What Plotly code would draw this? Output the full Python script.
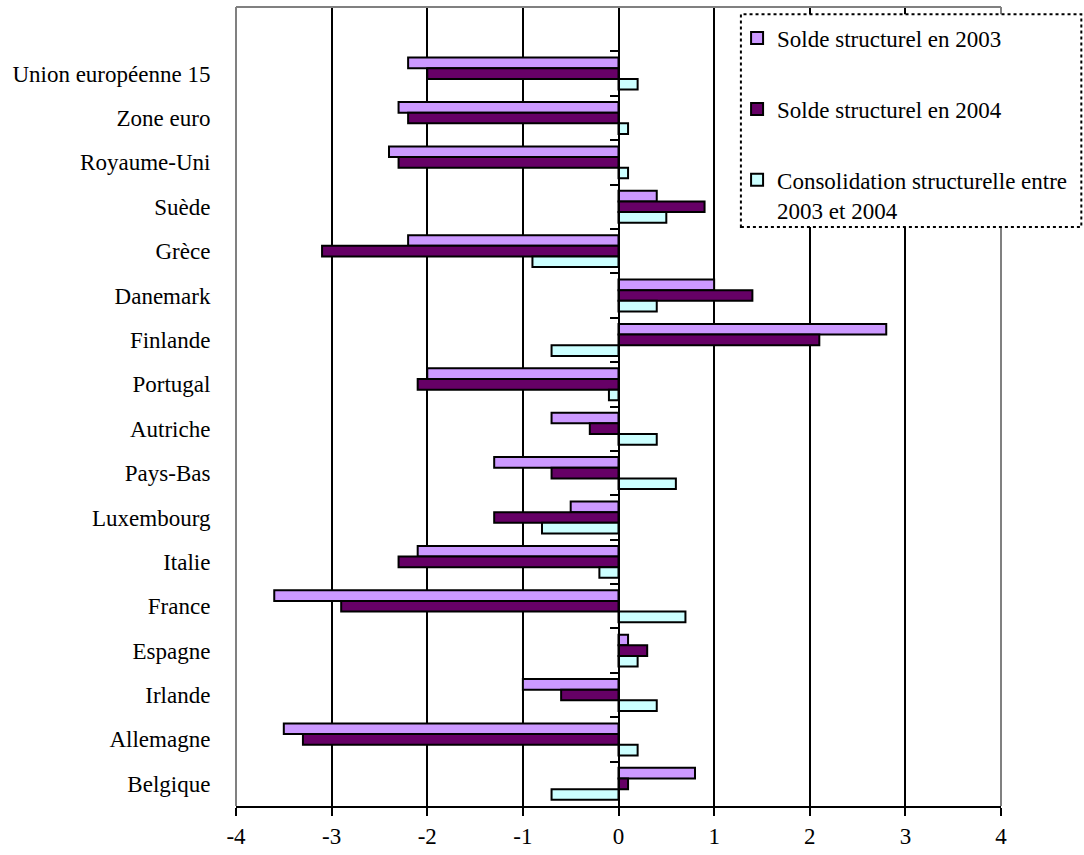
import plotly.graph_objects as go

categories = ["Union européenne 15", "Zone euro", "Royaume-Uni", "Suède", "Grèce",
              "Danemark", "Finlande", "Portugal", "Autriche", "Pays-Bas", "Luxembourg",
              "Italie", "France", "Espagne", "Irlande", "Allemagne", "Belgique"]
solde_2003 = [-2.2, -2.3, -2.4, 0.4, -2.2, 1.0, 2.8, -2.0, -0.7, -1.3, -0.5,
              -2.1, -3.6, 0.1, -1.0, -3.5, 0.8]
solde_2004 = [-2.0, -2.2, -2.3, 0.9, -3.1, 1.4, 2.1, -2.1, -0.3, -0.7, -1.3,
              -2.3, -2.9, 0.3, -0.6, -3.3, 0.1]
consolidation = [0.2, 0.1, 0.1, 0.5, -0.9, 0.4, -0.7, -0.1, 0.4, 0.6, -0.8,
                 -0.2, 0.7, 0.2, 0.4, 0.2, -0.7]
series_names = ["Solde structurel en 2003", "Solde structurel en 2004",
                "Consolidation structurelle entre<br>2003 et 2004"]
series_colors = ["#CC99FF", "#660066", "#CCFFFF"]
x_ticks = [-4, -3, -2, -1, 0, 1, 2, 3, 4]

FONT = "Liberation Serif, Times New Roman, serif"
FS = 23

fig = go.Figure()
for i, (name, vals, col) in enumerate(zip(series_names, [solde_2003, solde_2004, consolidation], series_colors)):
    fig.add_trace(go.Bar(
        y=categories, x=vals, orientation="h", name=name,
        marker=dict(color=col, line=dict(color="black", width=2)),
        legendgroup=f"g{i}",
    ))

# invisible trace on the secondary category axis (axis through zero with boundary ticks)
fig.add_trace(go.Scatter(y=categories, x=[0] * len(categories), yaxis="y2",
                         mode="markers", marker=dict(opacity=0), showlegend=False,
                         hoverinfo="skip"))

n = len(categories)
y_range = [n - 0.5, -1.5]

fig.update_layout(
    width=1084, height=855,
    margin=dict(l=236, r=83, t=7, b=49),
    paper_bgcolor="white", plot_bgcolor="white",
    font=dict(family=FONT, size=FS, color="black"),
    barmode="group", bargap=0.28, bargroupgap=0,
    xaxis=dict(range=[-4, 4], tickvals=x_ticks, ticktext=[str(v) for v in x_ticks],
               showgrid=True, gridcolor="black", gridwidth=2,
               zeroline=False, showline=True, linecolor="black", linewidth=2,
               ticks="outside", ticklen=8, tickwidth=2, tickcolor="black",
               tickfont=dict(size=FS)),
    yaxis=dict(type="category", categoryarray=categories, range=y_range,
               showgrid=False, zeroline=False, showline=False,
               ticks="outside", ticklen=20, tickcolor="rgba(0,0,0,0)",
               tickfont=dict(size=FS)),
    yaxis2=dict(type="category", categoryarray=categories, matches="y",
                overlaying="y", anchor="free", position=0.5, side="left",
                showticklabels=False, showgrid=False, zeroline=False,
                showline=True, linecolor="black", linewidth=2,
                ticks="outside", tickson="boundaries", ticklen=8, tickwidth=2,
                tickcolor="black"),
    legend=dict(x=0.655, y=0.988, xanchor="left", yanchor="top",
                bgcolor="rgba(0,0,0,0)", borderwidth=0,
                font=dict(size=FS), traceorder="grouped", tracegroupgap=38,
                valign="top", itemwidth=30),
    shapes=[
        dict(type="line", xref="paper", yref="paper", x0=0, x1=0, y0=0, y1=1,
             line=dict(color="#808080", width=2), layer="above"),
        dict(type="line", xref="paper", yref="paper", x0=0, x1=1, y0=1, y1=1,
             line=dict(color="#808080", width=2), layer="above"),
        dict(type="line", xref="paper", yref="paper", x0=1, x1=1, y0=0, y1=1,
             line=dict(color="#808080", width=2), layer="above"),
        dict(type="rect", xref="paper", yref="paper", x0=0.660, x1=1.105, y0=0.7247, y1=0.991,
             line=dict(color="black", width=2, dash="dot"), fillcolor="white", layer="above"),
    ],
)

fig.write_html("out.html")
